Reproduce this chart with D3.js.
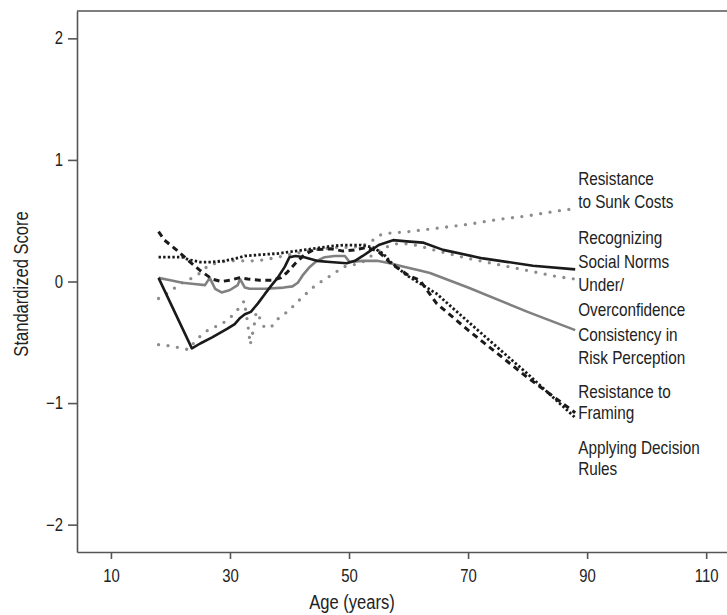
<!DOCTYPE html>
<html>
<head>
<meta charset="utf-8">
<script src="https://cdn.jsdelivr.net/npm/d3@7"></script>
<style>
  html, body { margin: 0; padding: 0; background: #fff; }
  svg { display: block; }
  text { font-family: "Liberation Sans", Arial, sans-serif; fill: #222; }
</style>
</head>
<body>
<svg id="chart" width="727" height="615"></svg>
<script>
// ---------- Data ----------
const xTicks = [10, 30, 50, 70, 90, 110];
const yTicks = [-2, -1, 0, 1, 2];

// Resistance to Sunk Costs (gray dotted)
const ageSunk = [18, 20, 21.6, 23.3, 25, 26.3, 28.3, 30, 32, 34, 36, 38, 40, 42, 44, 46, 48, 50, 52, 53.5, 55, 57, 60, 65, 70, 75, 80, 85, 88];
const valSunk = [-0.14, -0.08, -0.02, 0.02, 0.07, 0.13, 0.16, 0.17, 0.17, 0.17, 0.18, 0.20, 0.22, 0.24, 0.26, 0.27, 0.28, 0.28, 0.29, 0.32, 0.38, 0.40, 0.41, 0.44, 0.47, 0.51, 0.54, 0.58, 0.60];

// Recognizing Social Norms (black solid)
const ageNorms = [18, 23.6, 25, 27, 29.5, 30.8, 31.7, 32.5, 33.5, 34.7, 35.9, 37, 38, 39.2, 40, 41, 42.5, 44.6, 46.8, 49.6, 51, 52.3, 53.5, 55, 57.4, 59.7, 62.4, 65.8, 72.5, 80.9, 88];
const valNorms = [0.03, -0.55, -0.51, -0.46, -0.39, -0.35, -0.30, -0.27, -0.25, -0.18, -0.10, -0.03, 0.03, 0.12, 0.20, 0.21, 0.20, 0.17, 0.16, 0.15, 0.17, 0.21, 0.25, 0.30, 0.34, 0.33, 0.32, 0.26, 0.19, 0.13, 0.10];

// Under/Overconfidence (gray dotted)
const ageConf = [18, 20, 22, 23, 24, 25, 26, 27, 28.3, 30, 31.5, 32.4, 33, 33.4, 34, 34.4, 35, 35.8, 37, 38, 39, 40, 41, 42.2, 43.4, 44.7, 46, 47.6, 49, 51, 52.3, 54, 56, 58, 60, 62, 65, 70, 75, 80, 85, 88];
const valConf = [-0.52, -0.53, -0.55, -0.56, -0.50, -0.45, -0.41, -0.38, -0.36, -0.30, -0.22, -0.16, -0.35, -0.52, -0.38, -0.25, -0.30, -0.38, -0.37, -0.31, -0.27, -0.24, -0.18, -0.13, -0.07, -0.02, 0.02, 0.07, 0.12, 0.14, 0.16, 0.22, 0.28, 0.31, 0.31, 0.29, 0.25, 0.19, 0.14, 0.09, 0.04, 0.02];

// Consistency in Risk Perception (gray solid)
const ageRisk = [18, 20, 22, 24, 25.8, 26.6, 27.5, 28.6, 30, 31.3, 31.7, 32.5, 33.3, 36, 39, 40.5, 41.4, 42.2, 43.4, 44.6, 45.9, 47.6, 49.3, 50.1, 52.3, 54.7, 56.9, 58.5, 61.9, 63.6, 70, 80, 88];
const valRisk = [0.03, 0.01, -0.01, -0.02, -0.03, 0.03, -0.06, -0.09, -0.07, -0.03, 0.02, -0.05, -0.06, -0.06, -0.05, -0.04, -0.01, 0.05, 0.12, 0.17, 0.20, 0.21, 0.21, 0.16, 0.17, 0.17, 0.15, 0.13, 0.09, 0.07, -0.05, -0.25, -0.40];

// Resistance to Framing (black dashed)
const ageFrame = [18, 19, 21, 23.3, 25, 27, 28.5, 30, 31.5, 33, 35, 37, 38.5, 39.5, 41, 42.5, 44, 47, 49, 51, 53, 54.8, 56, 57, 58.5, 60, 61.9, 64.7, 70, 80, 88];
const valFrame = [0.41, 0.34, 0.26, 0.16, 0.09, 0.02, 0.0, 0.01, 0.03, 0.02, 0.01, 0.01, 0.03, 0.07, 0.15, 0.22, 0.26, 0.27, 0.25, 0.26, 0.28, 0.25, 0.20, 0.15, 0.10, 0.05, 0.01, -0.18, -0.40, -0.79, -1.08];

// Applying Decision Rules (black dotted)
const ageRules = [18, 20, 22, 23, 25, 27, 29, 31, 32.5, 35, 38, 41, 44, 47, 49, 52, 54, 55.7, 57, 58.5, 59.7, 62.4, 64.7, 70, 80, 88];
const valRules = [0.20, 0.20, 0.20, 0.18, 0.16, 0.16, 0.17, 0.19, 0.21, 0.22, 0.23, 0.25, 0.27, 0.29, 0.30, 0.30, 0.28, 0.23, 0.16, 0.10, 0.05, -0.03, -0.10, -0.33, -0.76, -1.12];

// Right-side labels (lines, in order)
const labelLines = ["Resistance", "to Sunk Costs", "Recognizing", "Social Norms", "Under/", "Overconfidence",
                    "Consistency in", "Risk Perception", "Resistance to", "Framing", "Applying Decision", "Rules"];
const labelScores = [0.79, 0.605, 0.305, 0.115, -0.075, -0.28, -0.49, -0.68, -0.955, -1.135, -1.42, -1.595];
const labelAge = 88.5;

// ---------- Chart ----------
const svg = d3.select("#chart");
const x = d3.scaleLinear().domain([4.3, 113.5]).range([77, 727]);
const y = d3.scaleLinear().domain([-2.225, 2.225]).range([552, 11]);

const axisColor = "#555";
const K = 0.85; // horizontal condensing of type, like the original condensed face

function condense(sel, k) {
  sel.each(function () {
    const t = d3.select(this);
    const xv = +(t.attr("x") || 0);
    t.attr("x", xv / k).attr("transform", `scale(${k},1)`);
  });
}

// top border
svg.append("line")
  .attr("x1", x(4.3)).attr("x2", x(113.5))
  .attr("y1", y(2.225)).attr("y2", y(2.225))
  .attr("stroke", axisColor).attr("stroke-width", 1.6);

const gx = svg.append("g").attr("transform", `translate(0,${y(-2.225)})`)
  .call(d3.axisBottom(x).tickValues(xTicks).tickSize(7).tickPadding(11).tickSizeOuter(0));
const gy = svg.append("g").attr("transform", `translate(${x(4.3)},0)`)
  .call(d3.axisLeft(y).tickValues(yTicks).tickSize(9).tickPadding(5).tickSizeOuter(0)
        .tickFormat(d => d < 0 ? "\u2212" + Math.abs(d) : String(d)));

[gx, gy].forEach(g => {
  g.select(".domain").attr("stroke", axisColor).attr("stroke-width", 1.6);
  g.selectAll(".tick line").attr("stroke", axisColor).attr("stroke-width", 1.6);
  g.selectAll(".tick text").attr("font-size", 17.5).attr("fill", "#222")
   .style("font-family", '"Liberation Sans", Arial, sans-serif');
  condense(g.selectAll(".tick text"), K);
});

svg.append("text")
  .attr("transform", `translate(28,${y(-0.02)}) rotate(-90) scale(${K},1)`)
  .attr("text-anchor", "middle").attr("font-size", 19.5)
  .text("Standardized Score");

const xt = svg.append("text")
  .attr("x", x(50.5)).attr("y", 609)
  .attr("text-anchor", "middle").attr("font-size", 19.5)
  .text("Age (years)");
condense(xt, K);

const series = [
  { ages: ageSunk,  vals: valSunk,  color: "#8c8c8c", width: 3.3, dash: "0,9.5", cap: "round" },
  { ages: ageConf,  vals: valConf,  color: "#8c8c8c", width: 3.3, dash: "0,9.5", cap: "round" },
  { ages: ageRisk,  vals: valRisk,  color: "#808080", width: 2.6, dash: null, cap: "butt" },
  { ages: ageRules, vals: valRules, color: "#1a1a1a", width: 2.8, dash: "2.4,2.2", cap: "butt" },
  { ages: ageFrame, vals: valFrame, color: "#1a1a1a", width: 3.0, dash: "6,4.5", cap: "butt" },
  { ages: ageNorms, vals: valNorms, color: "#1a1a1a", width: 2.6, dash: null, cap: "butt" }
];

const line = d3.line().x(d => x(d[0])).y(d => y(d[1])).curve(d3.curveLinear);

series.forEach(s => {
  const pts = s.ages.map((a, i) => [a, s.vals[i]]);
  svg.append("path")
    .datum(pts)
    .attr("d", line)
    .attr("fill", "none")
    .attr("stroke", s.color)
    .attr("stroke-width", s.width)
    .attr("stroke-linecap", s.cap)
    .attr("stroke-linejoin", "round")
    .attr("stroke-dasharray", s.dash);
});

const labels = svg.append("g").selectAll("text")
  .data(labelLines)
  .join("text")
  .attr("x", x(labelAge))
  .attr("y", (d, i) => y(labelScores[i]))
  .attr("font-size", 18)
  .text(d => d);
condense(labels, K);
</script>
</body>
</html>
